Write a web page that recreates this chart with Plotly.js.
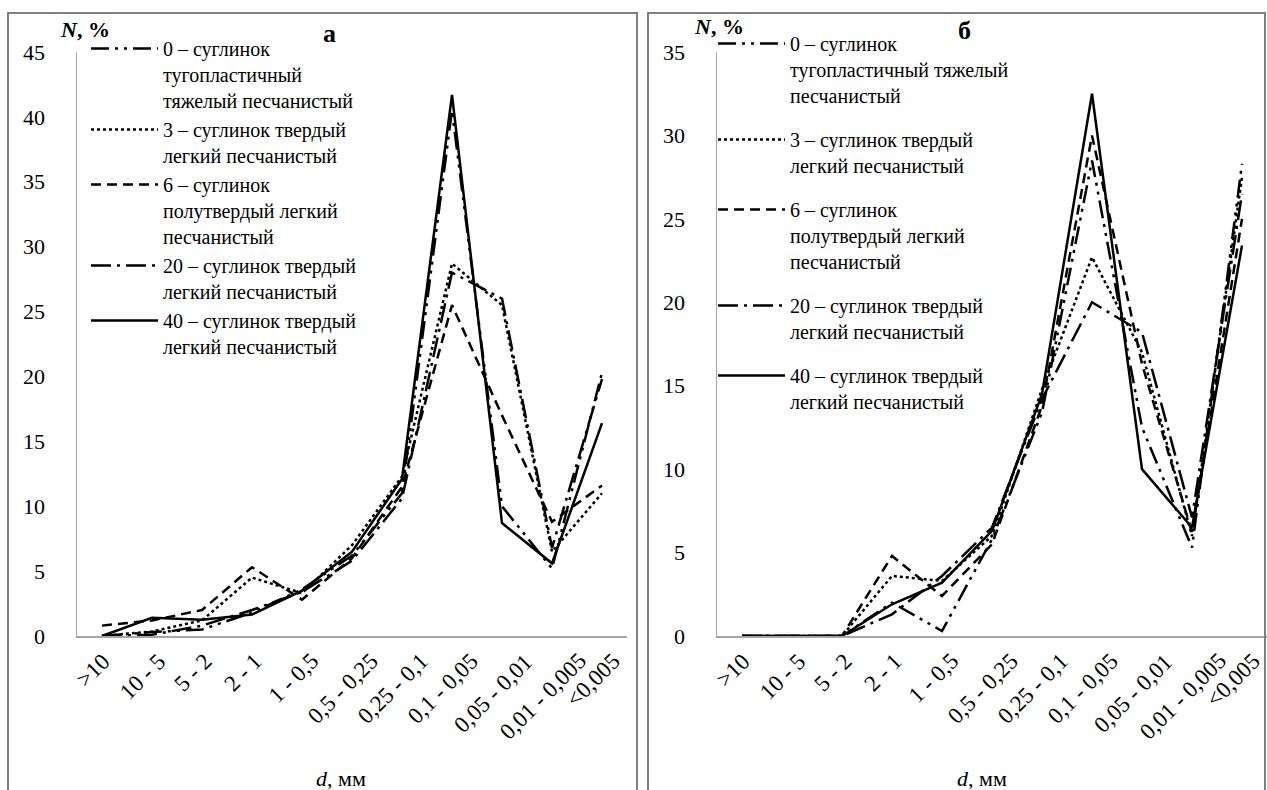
<!DOCTYPE html>
<html>
<head>
<meta charset="utf-8">
<script src="https://cdn.plot.ly/plotly-3.0.1.min.js"></script>
<style>html,body{margin:0;padding:0;background:#fff;}#chart{width:1267px;height:790px;}</style>
</head>
<body>
<div id="chart"></div>
<script>
// Categories (particle size, mm)
var categories = [">10", "10 - 5", "5 - 2", "2 - 1", "1 - 0,5", "0,5 - 0,25", "0,25 - 0,1", "0,1 - 0,05", "0,05 - 0,01", "0,01 - 0,005", "<0,005"];

// Panel "а"
var a_s0  = [0, 0.3, 0.5, 1.8, 3.6, 6.2, 11.0, 40.5, 10.0, 5.2, 20.3];
var a_s3  = [0, 0.35, 1.2, 4.5, 3.3, 7.0, 12.3, 28.7, 25.5, 6.5, 11.0];
var a_s6  = [0.8, 1.2, 2.0, 5.3, 2.8, 6.0, 11.5, 25.5, 17.0, 8.8, 11.6];
var a_s20 = [0, 0.1, 0.8, 2.0, 3.4, 5.8, 10.6, 28.0, 26.0, 6.8, 19.8];
var a_s40 = [0, 1.4, 1.25, 1.65, 3.5, 6.5, 12.1, 41.7, 8.7, 5.6, 16.4];

// Panel "б"
var b_s0  = [0, 0, 0, 2.0, 0.3, 5.8, 13.4, 28.5, 12.5, 5.3, 28.3];
var b_s3  = [0, 0, 0, 3.6, 3.3, 6.0, 14.8, 22.7, 17.0, 6.0, 27.5];
var b_s6  = [0, 0, 0, 4.8, 2.4, 5.5, 13.8, 30.0, 16.3, 6.2, 25.0];
var b_s20 = [0, 0, 0, 1.3, 3.6, 6.5, 14.2, 20.0, 18.2, 7.1, 26.5];
var b_s40 = [0, 0, 0, 1.9, 3.2, 6.3, 14.5, 32.5, 10.0, 6.5, 23.4];

var yTicksA = [0, 5, 10, 15, 20, 25, 30, 35, 40, 45];
var yTicksB = [0, 5, 10, 15, 20, 25, 30, 35];

var namesA = [
  "0 – суглинок<br>тугопластичный<br>тяжелый песчанистый",
  "3 – суглинок твердый<br>легкий песчанистый",
  "6 – суглинок<br>полутвердый легкий<br>песчанистый",
  "20 – суглинок твердый<br>легкий песчанистый",
  "40 – суглинок твердый<br>легкий песчанистый"
];
var namesB = [
  "0 – суглинок<br>тугопластичный тяжелый<br>песчанистый",
  "3 – суглинок твердый<br>легкий песчанистый",
  "6 – суглинок<br>полутвердый легкий<br>песчанистый",
  "20 – суглинок твердый<br>легкий песчанистый",
  "40 – суглинок твердый<br>легкий песчанистый"
];

var dashes = ["18px,6px,3px,6px,3px,6px", "dot", "10px,6px", "20px,6px,3px,6px", "solid"];
var seriesA = [a_s0, a_s3, a_s6, a_s20, a_s40];
var seriesB = [b_s0, b_s3, b_s6, b_s20, b_s40];

var traces = [];
seriesA.forEach(function (s, i) {
  traces.push({
    x: categories, y: s, type: "scatter", mode: "lines",
    name: namesA[i], legend: "legend", legendgroup: "a" + i,
    xaxis: "x", yaxis: "y",
    line: {color: "#000", width: 2.5, dash: dashes[i]}
  });
});
seriesB.forEach(function (s, i) {
  traces.push({
    x: categories, y: s, type: "scatter", mode: "lines",
    name: namesB[i], legend: "legend2", legendgroup: "b" + i,
    xaxis: "x2", yaxis: "y2",
    line: {color: "#000", width: 2.5, dash: dashes[i]}
  });
});

var FONT = "'Liberation Serif', 'Times New Roman', serif";
var W = 1267, H = 790;
var yDom = [154 / H, 738 / H];

function xAxis(dom, anchor) {
  return {
    domain: dom, anchor: anchor, type: "category", range: [-0.5, 10.5],
    categoryarray: categories, categoryorder: "array",
    showline: true, linecolor: "#a6a6a6", linewidth: 2,
    showgrid: false, zeroline: false, ticks: "", showticklabels: false,
    fixedrange: true
  };
}
function yAxis(range, tv, anchor) {
  return {
    domain: yDom, anchor: anchor, range: range, tickvals: tv,
    showline: true, linecolor: "#a6a6a6", linewidth: 1.5,
    showgrid: false, zeroline: false, ticks: "",
    ticklabelstandoff: 26,
    tickfont: {family: FONT, size: 22, color: "#000"}, fixedrange: true
  };
}

var legendCommon = {
  xanchor: "left", yanchor: "top", bgcolor: "rgba(0,0,0,0)",
  font: {family: FONT, size: 20, color: "#000"}, valign: "top",
  itemwidth: 67, itemclick: false, itemdoubleclick: false
};

function esc(s) { return s.replace(/</g, "&lt;").replace(/>/g, "&gt;"); }

var annotations = [
  {xref: "paper", yref: "paper", x: 58 / W, y: 1 - 30 / H, xanchor: "left", yanchor: "middle",
   text: "<b><i>N</i>, %</b>", showarrow: false, font: {family: FONT, size: 22, color: "#000"}},
  {xref: "paper", yref: "paper", x: 329 / W, y: 1 - 33 / H, xanchor: "center", yanchor: "middle",
   text: "<b>а</b>", showarrow: false, font: {family: FONT, size: 26, color: "#000"}},
  {xref: "paper", yref: "paper", x: 341 / W, y: 1 - 778 / H, xanchor: "center", yanchor: "middle",
   text: "<i>d</i>, мм", showarrow: false, font: {family: FONT, size: 22, color: "#000"}},
  {xref: "paper", yref: "paper", x: 692 / W, y: 1 - 27 / H, xanchor: "left", yanchor: "middle",
   text: "<b><i>N</i>, %</b>", showarrow: false, font: {family: FONT, size: 22, color: "#000"}},
  {xref: "paper", yref: "paper", x: 964 / W, y: 1 - 31 / H, xanchor: "center", yanchor: "middle",
   text: "<b>б</b>", showarrow: false, font: {family: FONT, size: 26, color: "#000"}},
  {xref: "paper", yref: "paper", x: 982 / W, y: 1 - 778 / H, xanchor: "center", yanchor: "middle",
   text: "<i>d</i>, мм", showarrow: false, font: {family: FONT, size: 22, color: "#000"}}
];
// Rotated category labels, centred under each category (Excel style)
["x", "x2"].forEach(function (ax) {
  categories.forEach(function (c) {
    annotations.push({
      xref: ax, yref: "paper", x: c, y: 1 - 646 / H, xanchor: "center", yanchor: "top",
      xshift: -9, textangle: -45, text: esc(c), showarrow: false,
      font: {family: FONT, size: 23, color: "#000"}
    });
  });
});

var layout = {
  width: W, height: H,
  margin: {l: 0, r: 0, t: 0, b: 0},
  paper_bgcolor: "#fff", plot_bgcolor: "#fff",
  showlegend: true,
  xaxis: xAxis([77 / W, 627 / W], "y"),
  yaxis: yAxis([0, 45], yTicksA, "x"),
  xaxis2: xAxis([717 / W, 1], "y2"),
  yaxis2: yAxis([0, 35], yTicksB, "x2"),
  legend: Object.assign({}, legendCommon, {x: 86 / W, y: 1 - 29 / H, tracegroupgap: 0}),
  legend2: Object.assign({}, legendCommon, {x: 713 / W, y: 1 - 24 / H, tracegroupgap: 15}),
  shapes: [
    {type: "rect", xref: "paper", yref: "paper", x0: 8 / W, x1: 637 / W, y0: -0.02, y1: 1 - 13 / H,
     line: {color: "#808080", width: 2}},
    {type: "rect", xref: "paper", yref: "paper", x0: 648 / W, x1: 1265 / W, y0: -0.02, y1: 1 - 13 / H,
     line: {color: "#808080", width: 2}}
  ],
  annotations: annotations
};

Plotly.newPlot("chart", traces, layout, {displayModeBar: false, staticPlot: true});
</script>
</body>
</html>
